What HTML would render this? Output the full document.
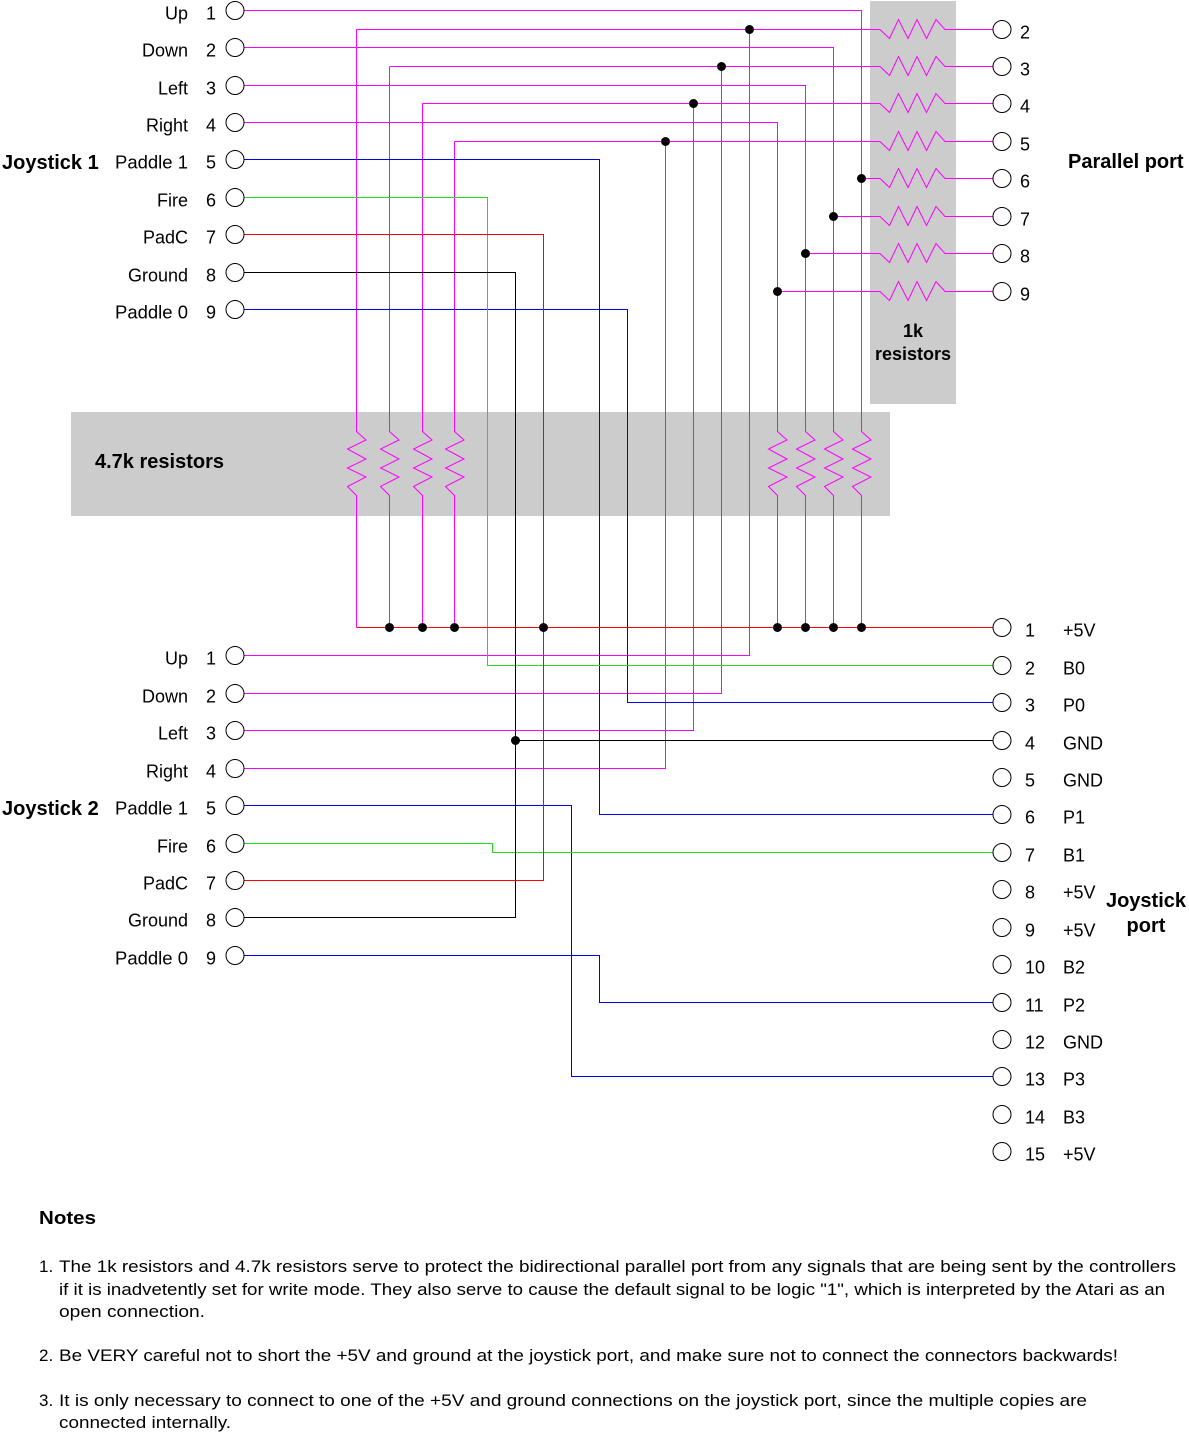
<!DOCTYPE html>
<html>
<head>
<meta charset="utf-8">
<style>
  html, body { margin: 0; padding: 0; background: #ffffff; }
  svg { display: block; }
  .t { font-family: "Liberation Sans", Arial, sans-serif; font-size: 18px; fill: #000; }
  .b { font-family: "Liberation Sans", Arial, sans-serif; font-size: 20px; font-weight: bold; fill: #000; }
  .n { font-family: "Liberation Sans", Arial, sans-serif; font-size: 17px; fill: #000; }
  .m { stroke: #ff00ff; fill: none; stroke-width: 1; }
  .bl { stroke: #0000ee; fill: none; stroke-width: 1; }
  .g { stroke: #22dd22; fill: none; stroke-width: 1; }
  .r { stroke: #ff0000; fill: none; stroke-width: 1; }
  .k { stroke: #000000; fill: none; stroke-width: 1; }
  .c { stroke: #000; fill: #fff; stroke-width: 1; }
</style>
</head>
<body>
<svg width="1189" height="1434" viewBox="0 0 1189 1434" xmlns="http://www.w3.org/2000/svg">
  <rect x="0" y="0" width="1189" height="1434" fill="#ffffff"/>
  <!-- gray boxes -->
  <rect x="870" y="1" width="86" height="403" fill="#cccccc"/>
  <rect x="71" y="412" width="819" height="104" fill="#cccccc"/>

  <!-- ===== Magenta: J1 direction lines to 4.7k pull-ups ===== -->
  <path class="m" d="M244,10.5 H861.5 V431.5 l9.5,8.5 l-18.5,9 l18.5,10 l-18.5,9 l18.5,9 l-18.5,9.5 l9,9 V627.5"/>
  <path class="m" d="M244,47.5 H833.5 V431.5 l9.5,8.5 l-18.5,9 l18.5,10 l-18.5,9 l18.5,9 l-18.5,9.5 l9,9 V627.5"/>
  <path class="m" d="M244,85.5 H805.5 V431.5 l9.5,8.5 l-18.5,9 l18.5,10 l-18.5,9 l18.5,9 l-18.5,9.5 l9,9 V627.5"/>
  <path class="m" d="M244,122.5 H777.5 V431.5 l9.5,8.5 l-18.5,9 l18.5,10 l-18.5,9 l18.5,9 l-18.5,9.5 l9,9 V627.5"/>

  <!-- left pull-up verticals -->
  <path class="m" d="M356.5,29.5 V431.5 l9.5,8.5 l-18.5,9 l18.5,10 l-18.5,9 l18.5,9 l-18.5,9.5 l9,9 V627.5"/>
  <path class="m" d="M389.5,66.5 V431.5 l9.5,8.5 l-18.5,9 l18.5,10 l-18.5,9 l18.5,9 l-18.5,9.5 l9,9 V627.5"/>
  <path class="m" d="M422.5,103.5 V431.5 l9.5,8.5 l-18.5,9 l18.5,10 l-18.5,9 l18.5,9 l-18.5,9.5 l9,9 V627.5"/>
  <path class="m" d="M454.5,141.5 V431.5 l9.5,8.5 l-18.5,9 l18.5,10 l-18.5,9 l18.5,9 l-18.5,9.5 l9,9 V627.5"/>

  <!-- parallel port rows with 1k resistors -->
  <path class="m" d="M356.5,29.5 H880 l9.5,9 l9,-19 l9.5,19 l9,-19 l9.5,19 l9.5,-19 l9,10 H993"/>
  <path class="m" d="M389.5,66.5 H880 l9.5,9 l9,-19 l9.5,19 l9,-19 l9.5,19 l9.5,-19 l9,10 H993"/>
  <path class="m" d="M422.5,103.5 H880 l9.5,9 l9,-19 l9.5,19 l9,-19 l9.5,19 l9.5,-19 l9,10 H993"/>
  <path class="m" d="M454.5,141.5 H880 l9.5,9 l9,-19 l9.5,19 l9,-19 l9.5,19 l9.5,-19 l9,10 H993"/>
  <path class="m" d="M861.5,178.5 H880 l9.5,9 l9,-19 l9.5,19 l9,-19 l9.5,19 l9.5,-19 l9,10 H993"/>
  <path class="m" d="M833.5,216.5 H880 l9.5,9 l9,-19 l9.5,19 l9,-19 l9.5,19 l9.5,-19 l9,10 H993"/>
  <path class="m" d="M805.5,253.5 H880 l9.5,9 l9,-19 l9.5,19 l9,-19 l9.5,19 l9.5,-19 l9,10 H993"/>
  <path class="m" d="M777.5,291.5 H880 l9.5,9 l9,-19 l9.5,19 l9,-19 l9.5,19 l9.5,-19 l9,10 H993"/>

  <!-- verticals to joystick 2 directions -->
  <path class="m" d="M749.5,29.5 V655.5 H244"/>
  <path class="m" d="M721.5,66.5 V693.5 H244"/>
  <path class="m" d="M693.5,103.5 V730.5 H244"/>
  <path class="m" d="M665.5,141.5 V768.5 H244"/>

  <!-- ===== Blue paddle lines ===== -->
  <path class="bl" d="M244,159.5 H599.5 V814.5 H993"/>
  <path class="bl" d="M244,309.5 H627.5 V702.5 H993"/>
  <path class="bl" d="M244,805.5 H571.5 V1076.5 H993"/>
  <path class="bl" d="M244,955.5 H599.5 V1002.5 H993"/>

  <!-- ===== Green fire lines ===== -->
  <path class="g" d="M244,197.5 H487.5 V665.5 H993"/>
  <path class="g" d="M244,843.5 H492.5 V852.5 H993"/>

  <!-- ===== Red PadC and +5V bus ===== -->
  <path class="r" d="M244,234.5 H543.5 V880.5 H244"/>
  <path class="r" d="M356.5,627.5 H993"/>

  <!-- ===== Black ground ===== -->
  <path class="k" d="M244,272.5 H515.5 V917.5 H244"/>
  <path class="k" d="M515.5,740.5 H993"/>

  <!-- junction dots -->
  <g fill="#000">
    <circle cx="749.5" cy="29.5" r="4.5"/>
    <circle cx="721.5" cy="66.5" r="4.5"/>
    <circle cx="693.5" cy="103.5" r="4.5"/>
    <circle cx="665.5" cy="141.5" r="4.5"/>
    <circle cx="861.5" cy="178.5" r="4.5"/>
    <circle cx="833.5" cy="216.5" r="4.5"/>
    <circle cx="805.5" cy="253.5" r="4.5"/>
    <circle cx="777.5" cy="291.5" r="4.5"/>
    <circle cx="389.5" cy="627.5" r="4.5"/>
    <circle cx="422.5" cy="627.5" r="4.5"/>
    <circle cx="454.5" cy="627.5" r="4.5"/>
    <circle cx="543.5" cy="627.5" r="4.5"/>
    <circle cx="777.5" cy="627.5" r="4.5"/>
    <circle cx="805.5" cy="627.5" r="4.5"/>
    <circle cx="833.5" cy="627.5" r="4.5"/>
    <circle cx="861.5" cy="627.5" r="4.5"/>
    <circle cx="515.5" cy="740.5" r="4.5"/>
  </g>

  <!-- pin circles -->
  <g class="c">
    <circle cx="235" cy="10.5" r="9"/>
    <circle cx="235" cy="47.5" r="9"/>
    <circle cx="235" cy="85.5" r="9"/>
    <circle cx="235" cy="122.5" r="9"/>
    <circle cx="235" cy="159.5" r="9"/>
    <circle cx="235" cy="197.5" r="9"/>
    <circle cx="235" cy="234.5" r="9"/>
    <circle cx="235" cy="272.5" r="9"/>
    <circle cx="235" cy="309.5" r="9"/>
    <circle cx="235" cy="655.5" r="9"/>
    <circle cx="235" cy="693.5" r="9"/>
    <circle cx="235" cy="730.5" r="9"/>
    <circle cx="235" cy="768.5" r="9"/>
    <circle cx="235" cy="805.5" r="9"/>
    <circle cx="235" cy="843.5" r="9"/>
    <circle cx="235" cy="880.5" r="9"/>
    <circle cx="235" cy="917.5" r="9"/>
    <circle cx="235" cy="955.5" r="9"/>
    <circle cx="1002" cy="29.5" r="9"/>
    <circle cx="1002" cy="66.5" r="9"/>
    <circle cx="1002" cy="103.5" r="9"/>
    <circle cx="1002" cy="141.5" r="9"/>
    <circle cx="1002" cy="178.5" r="9"/>
    <circle cx="1002" cy="216.5" r="9"/>
    <circle cx="1002" cy="253.5" r="9"/>
    <circle cx="1002" cy="291.5" r="9"/>
    <circle cx="1002" cy="627.5" r="9"/>
    <circle cx="1002" cy="665.5" r="9"/>
    <circle cx="1002" cy="702.5" r="9"/>
    <circle cx="1002" cy="740.5" r="9"/>
    <circle cx="1002" cy="777.5" r="9"/>
    <circle cx="1002" cy="814.5" r="9"/>
    <circle cx="1002" cy="852.5" r="9"/>
    <circle cx="1002" cy="889.5" r="9"/>
    <circle cx="1002" cy="927.5" r="9"/>
    <circle cx="1002" cy="964.5" r="9"/>
    <circle cx="1002" cy="1002.5" r="9"/>
    <circle cx="1002" cy="1039.5" r="9"/>
    <circle cx="1002" cy="1076.5" r="9"/>
    <circle cx="1002" cy="1114.5" r="9"/>
    <circle cx="1002" cy="1151.5" r="9"/>
  </g>

  <!-- Joystick 1 labels -->
  <g class="t" text-anchor="end">
    <text x="188" y="19.5">Up</text>
    <text x="188" y="56.5">Down</text>
    <text x="188" y="94.5">Left</text>
    <text x="188" y="131.5">Right</text>
    <text x="188" y="168.5" textLength="73" lengthAdjust="spacingAndGlyphs">Paddle 1</text>
    <text x="188" y="206.5">Fire</text>
    <text x="188" y="243.5">PadC</text>
    <text x="188" y="281.5">Ground</text>
    <text x="188" y="318.5" textLength="73" lengthAdjust="spacingAndGlyphs">Paddle 0</text>
  </g>
  <g class="t" text-anchor="middle">
    <text x="211" y="19.5">1</text>
    <text x="211" y="56.5">2</text>
    <text x="211" y="94.5">3</text>
    <text x="211" y="131.5">4</text>
    <text x="211" y="168.5">5</text>
    <text x="211" y="206.5">6</text>
    <text x="211" y="243.5">7</text>
    <text x="211" y="281.5">8</text>
    <text x="211" y="318.5">9</text>
  </g>
  <text class="b" x="2" y="169">Joystick 1</text>

  <!-- Joystick 2 labels -->
  <g class="t" text-anchor="end">
    <text x="188" y="664.5">Up</text>
    <text x="188" y="702.5">Down</text>
    <text x="188" y="739.5">Left</text>
    <text x="188" y="777.5">Right</text>
    <text x="188" y="814.5" textLength="73" lengthAdjust="spacingAndGlyphs">Paddle 1</text>
    <text x="188" y="852.5">Fire</text>
    <text x="188" y="889.5">PadC</text>
    <text x="188" y="926.5">Ground</text>
    <text x="188" y="964.5" textLength="73" lengthAdjust="spacingAndGlyphs">Paddle 0</text>
  </g>
  <g class="t" text-anchor="middle">
    <text x="211" y="664.5">1</text>
    <text x="211" y="702.5">2</text>
    <text x="211" y="739.5">3</text>
    <text x="211" y="777.5">4</text>
    <text x="211" y="814.5">5</text>
    <text x="211" y="852.5">6</text>
    <text x="211" y="889.5">7</text>
    <text x="211" y="926.5">8</text>
    <text x="211" y="964.5">9</text>
  </g>
  <text class="b" x="2" y="815">Joystick 2</text>

  <!-- Parallel port labels -->
  <g class="t">
    <text x="1020" y="38.5">2</text>
    <text x="1020" y="75.5">3</text>
    <text x="1020" y="112.5">4</text>
    <text x="1020" y="150.5">5</text>
    <text x="1020" y="187.5">6</text>
    <text x="1020" y="225.5">7</text>
    <text x="1020" y="262.5">8</text>
    <text x="1020" y="300.5">9</text>
  </g>
  <text class="b" x="1068" y="168">Parallel port</text>
  <text class="b" x="913" y="337" text-anchor="middle" style="font-size:18px">1k</text>
  <text class="b" x="913" y="360" text-anchor="middle" style="font-size:18px">resistors</text>
  <text class="b" x="95" y="468">4.7k resistors</text>

  <!-- Joystick port labels -->
  <g class="t">
    <text x="1025" y="636.5">1</text><text x="1063" y="636.5">+5V</text>
    <text x="1025" y="674.5">2</text><text x="1063" y="674.5">B0</text>
    <text x="1025" y="711.5">3</text><text x="1063" y="711.5">P0</text>
    <text x="1025" y="749.5">4</text><text x="1063" y="749.5">GND</text>
    <text x="1025" y="786.5">5</text><text x="1063" y="786.5">GND</text>
    <text x="1025" y="823.5">6</text><text x="1063" y="823.5">P1</text>
    <text x="1025" y="861.5">7</text><text x="1063" y="861.5">B1</text>
    <text x="1025" y="898.5">8</text><text x="1063" y="898.5">+5V</text>
    <text x="1025" y="936.5">9</text><text x="1063" y="936.5">+5V</text>
    <text x="1025" y="973.5">10</text><text x="1063" y="973.5">B2</text>
    <text x="1025" y="1011.5">11</text><text x="1063" y="1011.5">P2</text>
    <text x="1025" y="1048.5">12</text><text x="1063" y="1048.5">GND</text>
    <text x="1025" y="1085.5">13</text><text x="1063" y="1085.5">P3</text>
    <text x="1025" y="1123.5">14</text><text x="1063" y="1123.5">B3</text>
    <text x="1025" y="1160.5">15</text><text x="1063" y="1160.5">+5V</text>
  </g>
  <text class="b" x="1146" y="907" text-anchor="middle">Joystick</text>
  <text class="b" x="1146" y="932" text-anchor="middle">port</text>

  <!-- Notes -->
  <text class="b" x="39" y="1224" style="font-size:18px" textLength="57" lengthAdjust="spacingAndGlyphs">Notes</text>
  <g class="n">
    <text x="39" y="1272">1.</text>
    <text x="59" y="1272" textLength="1117" lengthAdjust="spacingAndGlyphs">The 1k resistors and 4.7k resistors serve to protect the bidirectional parallel port from any signals that are being sent by the controllers</text>
    <text x="59" y="1295" textLength="1106" lengthAdjust="spacingAndGlyphs">if it is inadvetently set for write mode. They also serve to cause the default signal to be logic "1", which is interpreted by the Atari as an</text>
    <text x="59" y="1317" textLength="146" lengthAdjust="spacingAndGlyphs">open connection.</text>
    <text x="39" y="1361">2.</text>
    <text x="59" y="1361" textLength="1059" lengthAdjust="spacingAndGlyphs">Be VERY careful not to short the +5V and ground at the joystick port, and make sure not to connect the connectors backwards!</text>
    <text x="39" y="1406">3.</text>
    <text x="59" y="1406" textLength="1028" lengthAdjust="spacingAndGlyphs">It is only necessary to connect to one of the +5V and ground connections on the joystick port, since the multiple copies are</text>
    <text x="59" y="1428" textLength="172" lengthAdjust="spacingAndGlyphs">connected internally.</text>
  </g>
</svg>
</body>
</html>
